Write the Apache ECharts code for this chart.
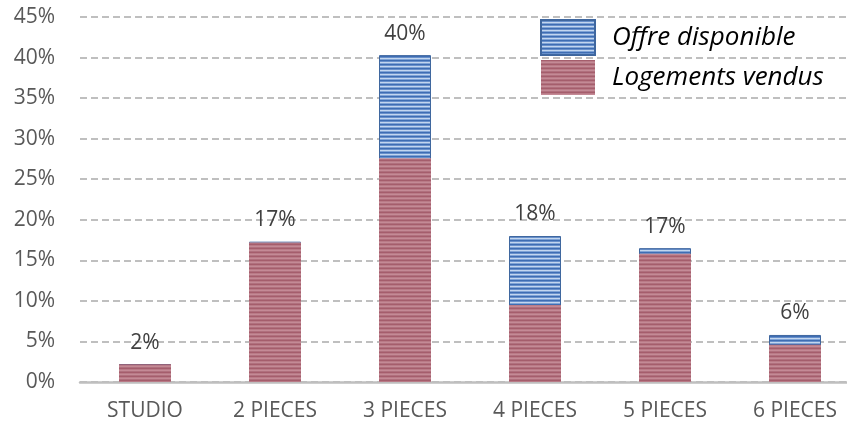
<!DOCTYPE html>
<html>
<head>
<meta charset="utf-8">
<script src="https://cdn.jsdelivr.net/npm/echarts@6/dist/echarts.min.js"></script>
<style>
  html, body { margin: 0; padding: 0; background: #fff; }
  #chart { width: 847px; height: 428px; }
</style>
</head>
<body>
<div id="chart"></div>
<script>
// Répartition par typologie (en % du total)
const categories = ['STUDIO', '2 PIECES', '3 PIECES', '4 PIECES', '5 PIECES', '6 PIECES'];
const offreDisponible = [2.2, 17.3, 40.3, 18.0, 16.5, 5.8];
const logementsVendus = [2.2, 17.2, 27.6, 9.5, 15.8, 4.6];
const yTicks = { min: 0, max: 45, interval: 5 };

// Horizontal hatch fill built from a small repeating tile
function stripePattern(rows) {
  const cv = document.createElement('canvas');
  cv.width = 4;
  cv.height = rows.length;
  const ctx = cv.getContext('2d');
  rows.forEach((c, i) => { ctx.fillStyle = c; ctx.fillRect(0, i, 4, 1); });
  return { image: cv, repeat: 'repeat' };
}

const bluePattern = stripePattern(['#3e6db3', '#6890cb', '#c2d6ef', '#7fa3d6']);
const redPattern = stripePattern(['#a55d6c', '#b97b87', '#c48a96', '#b0707d']);

const font = "'Open Sans', 'Noto Sans', sans-serif";

const chart = echarts.init(document.getElementById('chart'));
chart.setOption({
  animation: false,
  grid: { left: 80, top: 17, width: 780, bottom: 46, containLabel: false, outerBoundsMode: 'none' },
  legend: {
    orient: 'vertical',
    left: 540,
    top: 19,
    padding: 0,
    itemWidth: 54,
    itemHeight: 35,
    itemGap: 4,
    icon: 'rect',
    textStyle: {
      fontFamily: font, fontStyle: 'italic', fontSize: 26, color: '#000',
      lineHeight: 35, padding: [0, 0, 0, 12]
    },
    data: ['Offre disponible', 'Logements vendus']
  },
  xAxis: {
    type: 'category',
    data: categories,
    axisLine: { lineStyle: { color: '#bfbfbf', width: 2.5 } },
    axisTick: { show: false },
    axisLabel: { fontFamily: font, fontSize: 21, color: '#595959', margin: 19 }
  },
  yAxis: {
    type: 'value',
    min: yTicks.min,
    max: yTicks.max,
    interval: yTicks.interval,
    axisLine: { show: false },
    axisTick: { show: false },
    axisLabel: { fontFamily: font, fontSize: 21, color: '#595959', margin: 25, formatter: '{value}%' },
    splitLine: { lineStyle: { color: '#aaaaaa', width: 1.5, type: [7, 4] } }
  },
  series: [
    {
      name: 'Offre disponible',
      type: 'bar',
      data: offreDisponible,
      barWidth: 52,
      barGap: '-100%',
      itemStyle: { color: bluePattern, borderColor: '#3f679f', borderWidth: 1 },
      label: {
        show: true,
        position: 'top',
        distance: 11,
        fontFamily: font,
        fontSize: 21,
        color: '#404040',
        formatter: p => Math.round(p.value) + '%'
      }
    },
    {
      name: 'Logements vendus',
      type: 'bar',
      data: logementsVendus,
      barWidth: 52,
      itemStyle: { color: redPattern }
    }
  ]
});
</script>
</body>
</html>
